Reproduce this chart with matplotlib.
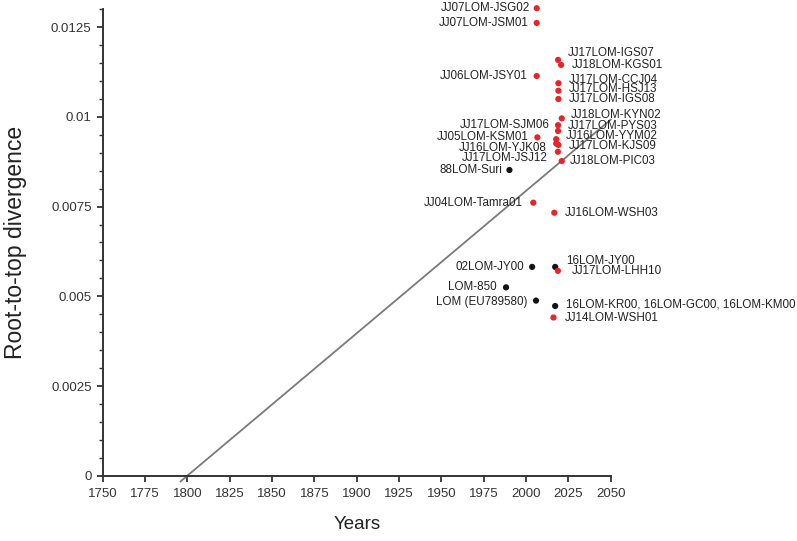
import matplotlib
matplotlib.use("Agg")
import matplotlib.pyplot as plt
from matplotlib.ticker import MultipleLocator, FixedLocator
import numpy as np

plt.rcParams['font.family'] = ['Liberation Sans', 'DejaVu Sans']

# Data
names = ["JJ07LOM-JSG02", "JJ07LOM-JSM01", "JJ17LOM-IGS07", "JJ18LOM-KGS01",
         "JJ06LOM-JSY01", "JJ17LOM-CCJ04", "JJ17LOM-HSJ13", "JJ17LOM-IGS08",
         "JJ18LOM-KYN02", "JJ17LOM-SJM06", "JJ17LOM-PYS03", "JJ05LOM-KSM01",
         "JJ16LOM-YYM02", "JJ16LOM-YJK08", "JJ17LOM-KJS09", "JJ17LOM-JSJ12",
         "JJ18LOM-PIC03", "88LOM-Suri", "JJ04LOM-Tamra01", "JJ16LOM-WSH03",
         "02LOM-JY00", "16LOM-JY00", "JJ17LOM-LHH10", "LOM-850",
         "LOM (EU789580)", "16LOM-KR00, 16LOM-GC00, 16LOM-KM00", "JJ14LOM-WSH01"]
years = [2006.3, 2006.3, 2018.9, 2020.7,
         2006.3, 2019.1, 2019.1, 2019.1,
         2021.1, 2018.9, 2018.9, 2006.7,
         2017.8, 2017.8, 2019.1, 2018.8,
         2021.1, 1990.2, 2004.3, 2016.7,
         2003.6, 2017.2, 2018.8, 1988.2,
         2005.9, 2017.2, 2016.2]
divergence = [0.01303, 0.01262, 0.01159, 0.01145,
              0.01114, 0.01094, 0.01073, 0.01050,
              0.00996, 0.00977, 0.00961, 0.00943,
              0.00938, 0.00926, 0.00922, 0.00903,
              0.00877, 0.00852, 0.00761, 0.00733,
              0.00582, 0.00582, 0.00571, 0.00525,
              0.00488, 0.00473, 0.00441]
group = ["new", "new", "new", "new",
         "new", "new", "new", "new",
         "new", "new", "new", "new",
         "new", "new", "new", "new",
         "new", "ref", "new", "new",
         "ref", "ref", "new", "ref",
         "ref", "ref", "new"]

# regression (root-to-tip) line parameters
root_year = 1800.0
rate = 3.97e-5
line_start, line_end = 1796.0, 2050.0

# label placement: side and pixel offsets (styling)
label_side = ["L", "L", "R", "R", "L", "R", "R", "R", "R", "L", "R", "L", "R", "L",
              "R", "L", "R", "L", "L", "R", "L", "R", "R", "L", "L", "R", "R"]
label_dx = [-7, -8, 10, 11, -9, 10, 10, 10, 9, -8, 10, -9, 10, -9,
            10, -10, 8, -7, -11, 11, -8, 11, 14, -9, -9, 11, 11]
label_dy = [0, 0, 7, 0, 0, 3, 2, 0, 3, 0, 5, 0, 3, -5,
            -1, -6, 0, 0, 0, 0, 0, 6, 0, 0, -1, 2, -1]

colors = {"new": "#e8232b", "ref": "#141414"}

W, H = 797, 541
fig = plt.figure(figsize=(W / 100, H / 100), dpi=100)
ax = fig.add_axes([102.7 / W, 1 - 475.7 / H, (610.7 - 102.7) / W, (475.7 - 9.3) / H])

xs = np.array([line_start, line_end])
ax.plot(xs, rate * (xs - root_year), color="#7a7a7a", lw=1.3, clip_on=False, zorder=2)

for n, x, y, g, s, dx, dy in zip(names, years, divergence, group, label_side, label_dx, label_dy):
    ax.scatter([x], [y], s=20, color=colors[g], edgecolors="none", zorder=3, clip_on=False)
    ax.annotate(n, (x, y), xytext=(dx * 0.72, dy * 0.72), textcoords="offset points",
                ha="right" if s == "L" else "left", va="center", fontsize=8.4,
                color="#222222", annotation_clip=False)

ax.set_xlim(1750, 2050)
ax.set_ylim(0, 0.013)
ax.xaxis.set_major_locator(MultipleLocator(25))
ax.yaxis.set_major_locator(FixedLocator([0, 0.0025, 0.005, 0.0075, 0.01, 0.0125]))
ax.set_yticklabels(["0", "0.0025", "0.005", "0.0075", "0.01", "0.0125"])
ax.yaxis.set_minor_locator(MultipleLocator(0.0005))

for sp in ["top", "right"]:
    ax.spines[sp].set_visible(False)
for sp in ["left", "bottom"]:
    ax.spines[sp].set_linewidth(1.4)
    ax.spines[sp].set_color("#333333")

ax.tick_params(axis="both", which="major", direction="out", length=4.5, width=1.3,
               color="#333333", labelsize=9.5, labelcolor="#333333")
ax.tick_params(axis="y", which="minor", direction="out", length=3, width=1.0, color="#333333")
ax.tick_params(axis="x", which="major", pad=4)

ax.set_xlabel("Years", fontsize=13.5, color="#222222", labelpad=12)
ax.set_ylabel("Root-to-top divergence", fontsize=16.5, color="#222222", labelpad=17)

fig.savefig("out.png", dpi=100)
